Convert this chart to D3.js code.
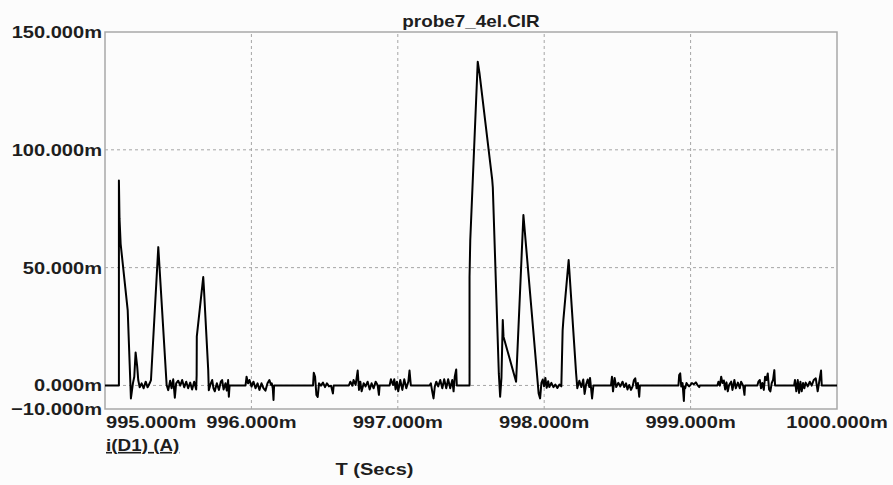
<!DOCTYPE html>
<html>
<head>
<meta charset="utf-8">
<script src="https://cdn.jsdelivr.net/npm/d3@7.9.0/dist/d3.min.js"></script>
<style>
  body { margin: 0; background: #fcfcfc; }
  svg { display: block; }
  text { font-family: "Liberation Sans", Arial, sans-serif; font-weight: bold; fill: #1e1e1e; }
</style>
</head>
<body>
<svg id="chart" width="893" height="485"></svg>
<script>
const title = 'probe7_4el.CIR';
const seriesLabel = 'i(D1) (A)';
const xTitle = 'T (Secs)';

// time in ms, current in mA
const timeMs = [
  995.000, 995.095, 995.095, 995.099, 995.107, 995.155, 995.177, 995.191, 995.200, 995.209,
  995.220, 995.227, 995.237, 995.250, 995.264, 995.278, 995.291, 995.305, 995.314, 995.364,
  995.421, 995.432, 995.445, 995.455, 995.466, 995.477, 995.486, 995.500, 995.514, 995.527,
  995.541, 995.555, 995.568, 995.582, 995.595, 995.609, 995.623, 995.626, 995.627, 995.671,
  995.675, 995.705, 995.709, 995.723, 995.732, 995.741, 995.750, 995.764, 995.778, 995.791,
  995.800, 995.810, 995.823, 995.832, 995.841, 995.846, 995.851, 995.960, 995.967, 995.977,
  995.987, 996.001, 996.014, 996.028, 996.042, 996.055, 996.069, 996.083, 996.096, 996.110,
  996.123, 996.134, 996.139, 996.146, 996.151, 996.155, 996.421, 996.426, 996.435, 996.444,
  996.453, 996.462, 996.475, 996.489, 996.503, 996.516, 996.530, 996.544, 996.557, 996.562,
  996.666, 996.676, 996.690, 996.698, 996.712, 996.726, 996.735, 996.744, 996.753, 996.767,
  996.780, 996.794, 996.808, 996.821, 996.835, 996.849, 996.862, 996.871, 996.876, 996.944,
  996.953, 996.967, 996.976, 996.985, 996.994, 997.003, 997.017, 997.031, 997.044, 997.058,
  997.072, 997.080, 997.089, 997.217, 997.226, 997.235, 997.244, 997.253, 997.263, 997.276,
  997.290, 997.304, 997.317, 997.331, 997.344, 997.358, 997.372, 997.381, 997.389, 997.399,
  997.403, 997.490, 997.490, 997.495, 997.546, 997.558, 997.645, 997.649, 997.690, 997.699,
  997.708, 997.717, 997.722, 997.808, 997.858, 997.962, 997.972, 997.981, 997.990, 997.999,
  998.008, 998.017, 998.027, 998.035, 998.049, 998.063, 998.076, 998.090, 998.104, 998.117,
  998.126, 998.131, 998.167, 998.218, 998.226, 998.240, 998.254, 998.267, 998.276, 998.286,
  998.297, 998.308, 998.313, 998.327, 998.336, 998.456, 998.463, 998.470, 998.481, 998.492,
  998.506, 998.520, 998.535, 998.547, 998.559, 998.569, 998.581, 998.593, 998.604, 998.613,
  998.622, 998.631, 998.640, 998.649, 998.654, 998.917, 998.922, 998.929, 998.936, 998.945,
  998.954, 998.958, 998.963, 998.972, 998.981, 998.990, 998.999, 999.009, 999.022, 999.036,
  999.050, 999.059, 999.063, 999.183, 999.190, 999.200, 999.209, 999.218, 999.227, 999.236,
  999.245, 999.254, 999.263, 999.277, 999.286, 999.299, 999.309, 999.323, 999.336, 999.345,
  999.359, 999.368, 999.372, 999.456, 999.463, 999.473, 999.481, 999.490, 999.500, 999.509,
  999.518, 999.527, 999.536, 999.545, 999.554, 999.563, 999.572, 999.577, 999.707, 999.713,
  999.722, 999.732, 999.741, 999.750, 999.759, 999.768, 999.777, 999.786, 999.800, 999.814,
  999.827, 999.841, 999.855, 999.868, 999.877, 999.891, 999.896, 1000.000
];
const currentMa = [
  0, 0, 87, 71, 60, 32, -5.5, 1, 3.7, 14,
  8, 2.3, -0.8, 0.9, -1.2, 1.6, -0.8, 0.9, 2.3, 58.7,
  0.2, -2, 2, -1.2, 2.6, -5.2, 0.9, 2, -0.1, 2.3,
  -0.8, 1.6, -1.2, 1.2, -1.7, 1.6, -1.7, 4.4, 20.7, 46,
  42, 6.5, -2, 0.9, 2.3, -1.2, -2.5, 0.9, -1.9, 1.6,
  2.3, -1.7, 0.9, -2.2, 2.3, -4.8, 0, 0, 3.7, 0.9,
  2.3, -0.5, 1.6, -1.2, 0.9, -1.9, 0.9, -1.2, -2.2, 0.9,
  2.3, 0.2, 0.9, -1.2, -6.2, 0, 0, 5.4, 3.7, -4,
  -4.9, 0.9, -0.1, 1.2, -0.7, 0.9, -0.4, -0.1, -3.4, 0,
  0, 1.6, -0.1, 2.3, 0.2, 6.3, -1.9, 1.6, -2.5, 0.9,
  -0.4, 1.6, -1.7, 0.9, -1.2, 1.6, 0.2, -4, 0, 0,
  2.6, 0.2, 2.6, -1.7, 1.6, -2.5, 2.3, -1.9, 2.6, -1.2,
  1.6, 6.3, 0, 0, 0.9, -2.5, -5.5, -0.4, 1.6, -0.4,
  2.3, -1.2, 2.6, -1.2, 2.6, -1.2, 2.3, -2.5, 3.7, 6.8,
  0, 0, 46, 61.7, 137.4, 132.5, 87.2, 84, 5.1, -4.8,
  3.2, 27.8, 20.7, 1.6, 72.3, -3.4, -5.5, 1.1, 2.5, -0.4,
  3.2, -1, 1.8, -0.7, 1.1, -0.7, 0.4, -1.1, 0.4, -0.4,
  23.5, 27.8, 53.2, 5.1, -1.2, 2, -0.7, 2.5, -3.6, 0.4,
  2.5, -0.7, 3.2, -5.5, 0, 0, 3.7, -2.5, 3.2, -0.7,
  1.1, -0.4, 1.6, -0.7, 0.9, -1.7, 0.2, -1.9, -0.4, 2.3,
  3, -1.2, 1, -4.8, 0, 0, 4.4, 5.1, -0.4, 1,
  -6.6, -0.4, -1.2, 1, 0.2, -0.4, 0.2, 1, 0.5, 1.3,
  -0.1, -0.7, 0, 0, 1.6, -0.1, 3.7, 1, 2.1, -1.7,
  1.3, -2.5, 0.2, 1.6, -1.9, 2.3, -1.2, 1.2, -1.2, 1.6,
  -0.1, -4, 0, 0, 1.6, 2.3, -1.2, 1, -1.9, 3.7,
  2.3, 5.1, -1.7, -2.5, 1, 2.3, 6.5, 0, 0, 2.3,
  -2.5, 2.3, -3.2, 1.6, -2.5, 1, -1.2, 1.2, -0.4, 1.6,
  -0.1, 2.3, 3, -2.5, 1, 6.3, 0, 0
];

const yTicks = [150, 100, 50, 0, -10];
const yGrid = [100, 50, 0];
const xTicks = [995, 996, 997, 998, 999, 1000];
const xGrid = [996, 997, 998, 999];

const svg = d3.select('#chart');
const stretch = 'scale(1.18,1)';

const x = d3.scaleLinear().domain([995, 1000]).range([105, 837]);
const y = d3.scaleLinear().domain([-10, 150]).range([409, 32]);
const fmt = (v) => d3.format('.3f')(v) + 'm';

// grid
svg.append('g')
  .selectAll('line')
  .data(yGrid)
  .join('line')
  .attr('x1', x.range()[0]).attr('x2', x.range()[1])
  .attr('y1', (d) => y(d)).attr('y2', (d) => y(d))
  .attr('stroke', '#a5a5a5').attr('stroke-dasharray', '3,3');

svg.append('g')
  .selectAll('line')
  .data(xGrid)
  .join('line')
  .attr('x1', (d) => x(d)).attr('x2', (d) => x(d))
  .attr('y1', y.range()[0]).attr('y2', y.range()[1])
  .attr('stroke', '#a5a5a5').attr('stroke-dasharray', '3,3');

// frame
svg.append('rect')
  .attr('x', x.range()[0]).attr('y', y.range()[1])
  .attr('width', x.range()[1] - x.range()[0])
  .attr('height', y.range()[0] - y.range()[1])
  .attr('fill', 'none').attr('stroke', '#a8a8a8').attr('stroke-width', 1.5);

// trace
const points = timeMs.map((t, i) => [t, currentMa[i]]);
const line = d3.line().x((d) => x(d[0])).y((d) => y(d[1]));
svg.append('path')
  .datum(points)
  .attr('d', line)
  .attr('fill', 'none')
  .attr('stroke', '#000')
  .attr('stroke-width', 2)
  .attr('stroke-linejoin', 'round');

// y labels
svg.append('g')
  .selectAll('text')
  .data(yTicks)
  .join('text')
  .attr('transform', (d) => `translate(102,${y(d) + 6}) ${stretch}`)
  .attr('text-anchor', 'end')
  .attr('font-size', 17)
  .text(fmt);

// x labels
svg.append('g')
  .selectAll('text')
  .data(xTicks)
  .join('text')
  .attr('transform', (d, i) => `translate(${i === 0 ? 106 : x(d)},428) ${stretch}`)
  .attr('text-anchor', (d, i) => (i === 0 ? 'start' : 'middle'))
  .attr('font-size', 17)
  .text(fmt);

svg.append('text')
  .attr('transform', `translate(471,27) ${stretch}`)
  .attr('text-anchor', 'middle')
  .attr('font-size', 16)
  .text(title);

svg.append('text')
  .attr('transform', `translate(106,451) ${stretch}`)
  .attr('font-size', 16)
  .attr('text-decoration', 'underline')
  .text(seriesLabel);

svg.append('text')
  .attr('transform', `translate(374.5,475) ${stretch}`)
  .attr('text-anchor', 'middle')
  .attr('font-size', 17)
  .text(xTitle);
</script>
</body>
</html>
